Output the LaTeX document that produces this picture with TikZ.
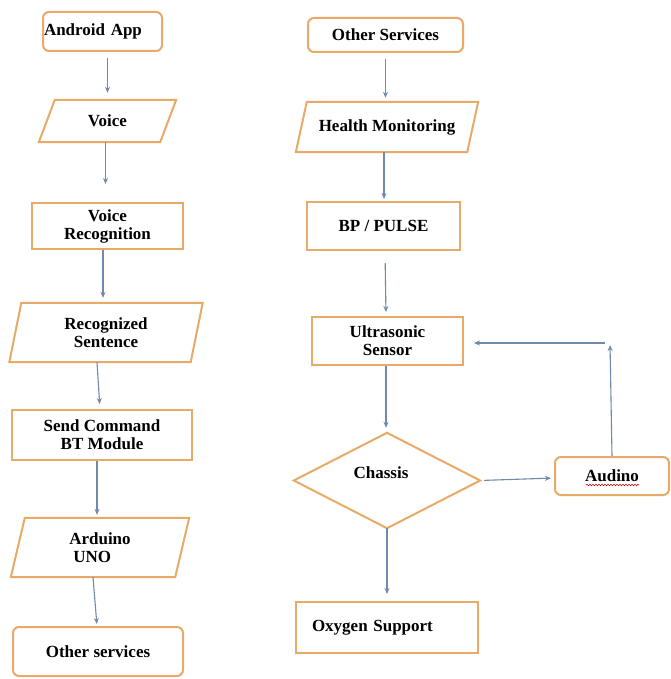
\documentclass[tikz,border=0pt]{standalone}
\usepackage{fontspec}
\setmainfont{Liberation Serif}
\usetikzlibrary{calc,arrows.meta,decorations.pathmorphing}
\definecolor{bord}{RGB}{232,170,105}
\definecolor{arr}{RGB}{110,138,172}
\begin{document}
\begin{tikzpicture}[x=1pt,y=-1pt,
  font=\fontsize{17}{18}\selectfont\bfseries,
  box/.style={draw=bord, line width=2pt, fill=white, inner sep=0pt, align=center},
  rbox/.style={box, rounded corners=6pt},
  ghost/.style={inner sep=0pt, align=center},
  outline/.style={draw=bord, line width=2pt},
  conn/.style={draw=arr, line width=1.1pt, -{Stealth[length=6pt,width=5pt]}}]
\fill[white] (0,0) rectangle (670,679);
\useasboundingbox (0,0) rectangle (670,679);

% ---------- left column ----------
\node[rbox, minimum width=119pt, minimum height=39pt, text width=117pt, align=left] (android) at (102.5,31.5) {Android App};

\node[ghost, minimum width=121pt, minimum height=42pt] (voice) at (107.5,121) {Voice};
\draw[outline] ($(voice.south west)+(-8,0)$) -- ($(voice.south east)+(-8,0)$) -- ($(voice.north east)+(8,0)$) -- ($(voice.north west)+(8,0)$) -- cycle;

\node[box, minimum width=151pt, minimum height=46pt] (vrec) at (107.5,226) {Voice\\Recognition};

\node[ghost, minimum width=181pt, minimum height=59pt] (recs) at (106,332.5) {Recognized\\Sentence};
\draw[outline] ($(recs.south west)+(-6,0)$) -- ($(recs.south east)+(-6,0)$) -- ($(recs.north east)+(6,0)$) -- ($(recs.north west)+(6,0)$) -- cycle;

\node[box, minimum width=180pt, minimum height=50pt] (send) at (102,435) {Send Command\\BT Module};

\node[ghost, minimum width=164pt, minimum height=59pt, align=left] (ard) at (100,547.5) {Arduino\\\hspace*{4pt}UNO};
\draw[outline] ($(ard.south west)+(-7,0)$) -- ($(ard.south east)+(-7,0)$) -- ($(ard.north east)+(7,0)$) -- ($(ard.north west)+(7,0)$) -- cycle;

\node[rbox, minimum width=170pt, minimum height=49pt] (oth) at (98,651.5) {Other services};

% ---------- right column ----------
\node[rbox, minimum width=155pt, minimum height=34pt] (othR) at (385.5,35) {Other Services};

\node[ghost, minimum width=171pt, minimum height=50pt] (health) at (387,127) {Health Monitoring};
\draw[outline] ($(health.south west)+(-5.5,0)$) -- ($(health.south east)+(-5.5,0)$) -- ($(health.north east)+(5.5,0)$) -- ($(health.north west)+(5.5,0)$) -- cycle;

\node[box, minimum width=153pt, minimum height=48pt] (bp) at (383.5,226) {BP / PULSE};

\node[box, minimum width=151pt, minimum height=48pt] (ultra) at (387.5,341) {Ultrasonic\\Sensor};

\node[ghost, minimum width=186pt, minimum height=95pt] (chassis) at (387,480.5) {};
\draw[outline] (chassis.north) -- (chassis.east) -- (chassis.south) -- (chassis.west) -- cycle;
\node[ghost] (chassistext) at (381,473) {Chassis};

\node[rbox, minimum width=114pt, minimum height=38pt] (aud) at (612,476) {Audino};
\draw[red!75!black, line width=0.6pt, decorate, decoration={snake, amplitude=0.7pt, segment length=3pt}] ($(aud.center)+(-26,9)$) -- ($(aud.center)+(27,9)$);

\node[box, minimum width=182pt, minimum height=51pt, text width=150pt, align=left] (oxy) at (387,627.5) {Oxygen Support};

\coordinate (corner) at (610,343);

% ---------- connectors ----------
\draw[conn, shorten <=6pt, shorten >=7pt] (android.south -| voice.north) -- (voice.north);
\draw[conn, shorten >=18pt] ([xshift=-2pt]voice.south) -- ([xshift=-2pt]voice.south |- vrec.north);
\draw[conn, shorten >=5pt] ([xshift=-4.5pt]vrec.south) -- ([xshift=-4.5pt]vrec.south |- recs.north);
\draw[conn, shorten >=5pt] ([xshift=-9pt]recs.south) -- ([xshift=-2pt]send.north);
\draw[conn, shorten >=3pt] ([xshift=-5pt]send.south) -- ([xshift=-5pt]send.south |- ard.north);
\draw[conn, shorten >=2pt] ([xshift=-7pt]ard.south) -- ([xshift=-1pt]oth.north);

\draw[conn, shorten <=6pt, shorten >=4pt] (othR.south) -- (othR.south |- health.north);
\draw[conn, shorten >=2pt] ([xshift=-3pt]health.south) -- ([xshift=-3pt]health.south |- bp.north);
\draw[conn, shorten <=12pt, shorten >=4pt] ([xshift=1.5pt]bp.south) -- ([xshift=-1.5pt]ultra.north);
\draw[conn, shorten >=5pt] ([xshift=-1.5pt]ultra.south) -- ([xshift=-1.5pt]ultra.south |- chassis.north);
\draw[conn, shorten >=7pt] (chassis.south) -- (oxy.north);
\draw[conn, shorten <=4pt, shorten >=3pt] (chassis.east) -- ([yshift=-2pt]aud.west);
\draw[conn, shorten >=2pt] (aud.north) -- (corner);
\draw[conn, shorten <=5pt, shorten >=10pt] (corner) -- (corner -| ultra.east);
\end{tikzpicture}
\end{document}
